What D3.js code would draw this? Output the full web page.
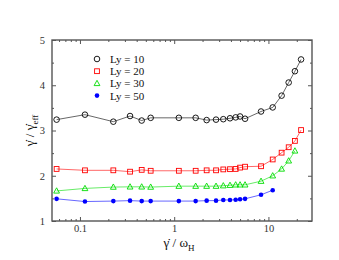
<!DOCTYPE html>
<html>
<head>
<meta charset="utf-8">
<script src="https://cdn.jsdelivr.net/npm/d3@7"></script>
<style>
  body { margin: 0; background: #fff; }
  svg text { font-family: "Liberation Serif", "DejaVu Serif", serif; }
</style>
</head>
<body>
<div id="chart"></div>
<script>
// shear rate / omega_H (shared by all series)
const rates = [0.0565, 0.113, 0.226, 0.34, 0.452, 0.563, 1.12, 1.69, 2.21, 2.78, 3.32,
  3.91, 4.49, 5.0, 5.65, 8.35, 11.1, 13.8, 16.4, 19.1, 22.2]

const ly10 = [3.24, 3.35, 3.195, 3.32, 3.22, 3.28, 3.28, 3.28, 3.23, 3.24, 3.25,
  3.27, 3.29, 3.31, 3.26, 3.42, 3.51, 3.77, 4.06, 4.31, 4.57]
const ly20 = [2.15, 2.12, 2.12, 2.09, 2.13, 2.11, 2.11, 2.11, 2.12, 2.12, 2.14,
  2.145, 2.15, 2.18, 2.2, 2.21, 2.36, 2.51, 2.63, 2.77, 3.01]
const ly30 = [1.665, 1.72, 1.75, 1.755, 1.755, 1.75, 1.77, 1.77, 1.77, 1.77, 1.78,
  1.79, 1.8, 1.8, 1.8, 1.88, 2.0, 2.15, 2.33, 2.55]
const ly50 = [1.49, 1.43, 1.44, 1.45, 1.44, 1.44, 1.44, 1.44, 1.45, 1.45, 1.465,
  1.465, 1.47, 1.48, 1.49, 1.58, 1.68]

const seriesNames = ["Ly = 10", "Ly = 20", "Ly = 30", "Ly = 50"]
const xTicks = [0.1, 1, 10]
const yTicks = [1, 2, 3, 4, 5]

const series = [
  { name: seriesNames[0], values: ly10, color: "#000000", symbol: "circle" },
  { name: seriesNames[1], values: ly20, color: "#ff0000", symbol: "square" },
  { name: seriesNames[2], values: ly30, color: "#00dd00", symbol: "triangle" },
  { name: seriesNames[3], values: ly50, color: "#0000ff", symbol: "dot" }
]

const W = 339, H = 260
const margin = { top: 40, right: 27, bottom: 39, left: 52 }
const width = W - margin.left - margin.right
const height = H - margin.top - margin.bottom

const svg = d3.select("#chart").append("svg")
  .attr("width", W)
  .attr("height", H)

const g = svg.append("g")
  .attr("transform", "translate(" + margin.left + "," + margin.top + ")")

const x = d3.scaleLog().domain([0.0505, 29]).range([0, width])
const y = d3.scaleLinear().domain([1, 5]).range([height, 0])

// minor ticks
const xMinor = []
for (let dec of [0.01, 0.1, 1, 10]) {
  for (let k = 2; k <= 9; k++) {
    let v = dec * k
    if (v > x.domain()[0] && v < x.domain()[1]) xMinor.push(v)
  }
}
const yMinor = [1.5, 2.5, 3.5, 4.5]

const axisColor = "#555"
const fmt = d => d

function styleAxis(sel) {
  sel.select(".domain").remove()
  sel.selectAll("line").attr("stroke", axisColor)
  sel.selectAll("text").attr("fill", "#333").style("font-size", "10.5px")
}

// bottom / top
g.append("g")
  .attr("transform", "translate(0," + height + ")")
  .call(d3.axisBottom(x).tickValues(xTicks).tickSize(-4).tickPadding(4).tickFormat(fmt))
  .call(styleAxis)
g.append("g")
  .attr("transform", "translate(0," + height + ")")
  .call(d3.axisBottom(x).tickValues(xMinor).tickSize(-2).tickFormat(""))
  .call(styleAxis)
g.append("g")
  .call(d3.axisTop(x).tickValues(xTicks).tickSize(-4).tickFormat(""))
  .call(styleAxis)
g.append("g")
  .call(d3.axisTop(x).tickValues(xMinor).tickSize(-2).tickFormat(""))
  .call(styleAxis)

// left / right
g.append("g")
  .call(d3.axisLeft(y).tickValues(yTicks).tickSize(-4).tickPadding(7).tickFormat(fmt))
  .call(styleAxis)
g.append("g")
  .call(d3.axisLeft(y).tickValues(yMinor).tickSize(-2).tickFormat(""))
  .call(styleAxis)
g.append("g")
  .attr("transform", "translate(" + width + ",0)")
  .call(d3.axisRight(y).tickValues(yTicks).tickSize(-4).tickFormat(""))
  .call(styleAxis)
g.append("g")
  .attr("transform", "translate(" + width + ",0)")
  .call(d3.axisRight(y).tickValues(yMinor).tickSize(-2).tickFormat(""))
  .call(styleAxis)

// frame
g.append("rect")
  .attr("width", width)
  .attr("height", height)
  .attr("fill", "none")
  .attr("stroke", axisColor)
  .attr("stroke-width", 1.4)

function drawMarker(sel, s) {
  if (s.symbol === "circle") {
    sel.append("circle").attr("r", 2.8)
      .attr("fill", "none").attr("stroke", s.color).attr("stroke-width", 0.9)
  } else if (s.symbol === "square") {
    sel.append("rect").attr("x", -2.4).attr("y", -2.4).attr("width", 4.8).attr("height", 4.8)
      .attr("fill", "none").attr("stroke", s.color).attr("stroke-width", 0.9)
  } else if (s.symbol === "triangle") {
    sel.append("path").attr("d", "M0,-3.1L2.9,2.2L-2.9,2.2Z")
      .attr("fill", "none").attr("stroke", s.color).attr("stroke-width", 0.9)
  } else {
    sel.append("circle").attr("r", 2.3).attr("fill", s.color)
  }
}

const line = d3.line()
  .x(d => x(d[0]))
  .y(d => y(d[1]))

series.forEach(s => {
  const pts = s.values.map((v, i) => [rates[i], v])
  g.append("path")
    .datum(pts)
    .attr("fill", "none")
    .attr("stroke", s.color)
    .attr("stroke-opacity", 0.75)
    .attr("stroke-width", 0.8)
    .attr("d", line)
  g.selectAll(null)
    .data(pts)
    .enter()
    .append("g")
    .attr("transform", d => "translate(" + x(d[0]) + "," + y(d[1]) + ")")
    .each(function() { drawMarker(d3.select(this), s) })
})

// legend
const legend = g.append("g").attr("transform", "translate(45,19)")
series.forEach((s, i) => {
  const row = legend.append("g").attr("transform", "translate(0," + (i * 12.2) + ")")
  drawMarker(row.append("g"), s)
  row.append("text")
    .attr("x", 13)
    .attr("y", 4)
    .style("font-size", "11px")
    .attr("fill", "#111")
    .text(s.name)
})

// axis titles
svg.append("text")
  .attr("x", 179)
  .attr("y", 247)
  .attr("text-anchor", "middle")
  .style("font-size", "13px")
  .attr("fill", "#111")
  .html('\u03B3\u0307 / \u03C9<tspan dy="4" font-size="9px">H</tspan>')

svg.append("text")
  .attr("transform", "translate(34," + (margin.top + height / 2) + ") rotate(-90)")
  .attr("text-anchor", "middle")
  .style("font-size", "13px")
  .attr("fill", "#111")
  .html('\u03B3\u0307 / \u03B3\u0307<tspan dy="4" font-size="9px">eff</tspan>')
</script>
</body>
</html>
